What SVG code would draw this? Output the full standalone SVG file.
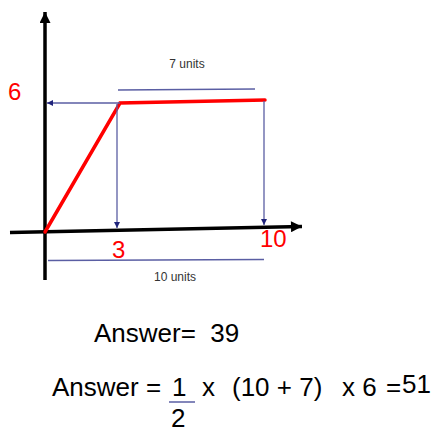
<svg xmlns="http://www.w3.org/2000/svg" width="435" height="432" viewBox="0 0 435 432">
<style>
.ax{stroke:#000;stroke-width:3.5;fill:none}
.rd{stroke:#ff0000;stroke-width:3.5;fill:none;stroke-linecap:round}
.bl{stroke:#5a5ea3;stroke-width:1.3;fill:none}
.lbl{font-family:"Liberation Sans",Arial,sans-serif;fill:#333;font-size:12px}
.red{font-family:"Liberation Sans",Arial,sans-serif;fill:#ff0000;font-size:24px}
.eq{font-family:"Liberation Sans",Arial,sans-serif;fill:#000;font-size:26px}
</style>
<defs>
<marker id="ba" viewBox="0 0 10 10" refX="10" refY="5" markerWidth="7" markerHeight="6" markerUnits="userSpaceOnUse" orient="auto"><path d="M0,0L10,5L0,10z" fill="#1f237a"/></marker>
<marker id="ka" viewBox="0 0 10 10" refX="10" refY="5" markerWidth="14" markerHeight="11" markerUnits="userSpaceOnUse" orient="auto"><path d="M0,0L10,5L0,10z" fill="#000"/></marker>
</defs>
<g id="axes">
<line class="ax" x1="45" y1="280" x2="45" y2="12" marker-end="url(#ka)"/>
<line class="ax" x1="10" y1="232.5" x2="302" y2="226.5" marker-end="url(#ka)"/>
</g>
<g id="graph">
<polyline class="rd" points="45,232 120,103 265,100"/>
</g>
<g id="connectors">
<line class="bl" x1="120" y1="103" x2="47" y2="103" marker-end="url(#ba)"/>
<line class="bl" x1="117" y1="104" x2="117" y2="228" marker-end="url(#ba)"/>
<line class="bl" x1="264" y1="101" x2="264" y2="225" marker-end="url(#ba)"/>
<line class="bl" x1="118" y1="90" x2="255" y2="89"/>
<line class="bl" x1="48" y1="260.5" x2="264" y2="259.5"/>
</g>
<g id="labels">
<text class="lbl" x="187" y="68" text-anchor="middle">7 units</text>
<text class="lbl" x="175" y="281" text-anchor="middle">10 units</text>
<text class="red" x="8" y="100">6</text>
<text class="red" x="112" y="258">3</text>
<text class="red" x="260" y="247">10</text>
</g>
<g id="answers">
<text class="eq" x="94" y="342" xml:space="preserve">Answer=  39</text>
<text class="eq" x="52" y="396">Answer =</text>
<text class="eq" x="172" y="396">1</text>
<line x1="169" y1="402" x2="195" y2="402" stroke="#5a5ea3" stroke-width="1.5"/>
<text class="eq" x="171" y="427">2</text>
<text class="eq" x="202" y="396">x</text>
<text class="eq" x="232" y="396">(10 + 7)</text>
<text class="eq" x="342" y="396">x 6</text>
<text class="eq" x="386" y="396">=</text>
<text class="eq" x="402" y="393">51</text>
</g>
</svg>
